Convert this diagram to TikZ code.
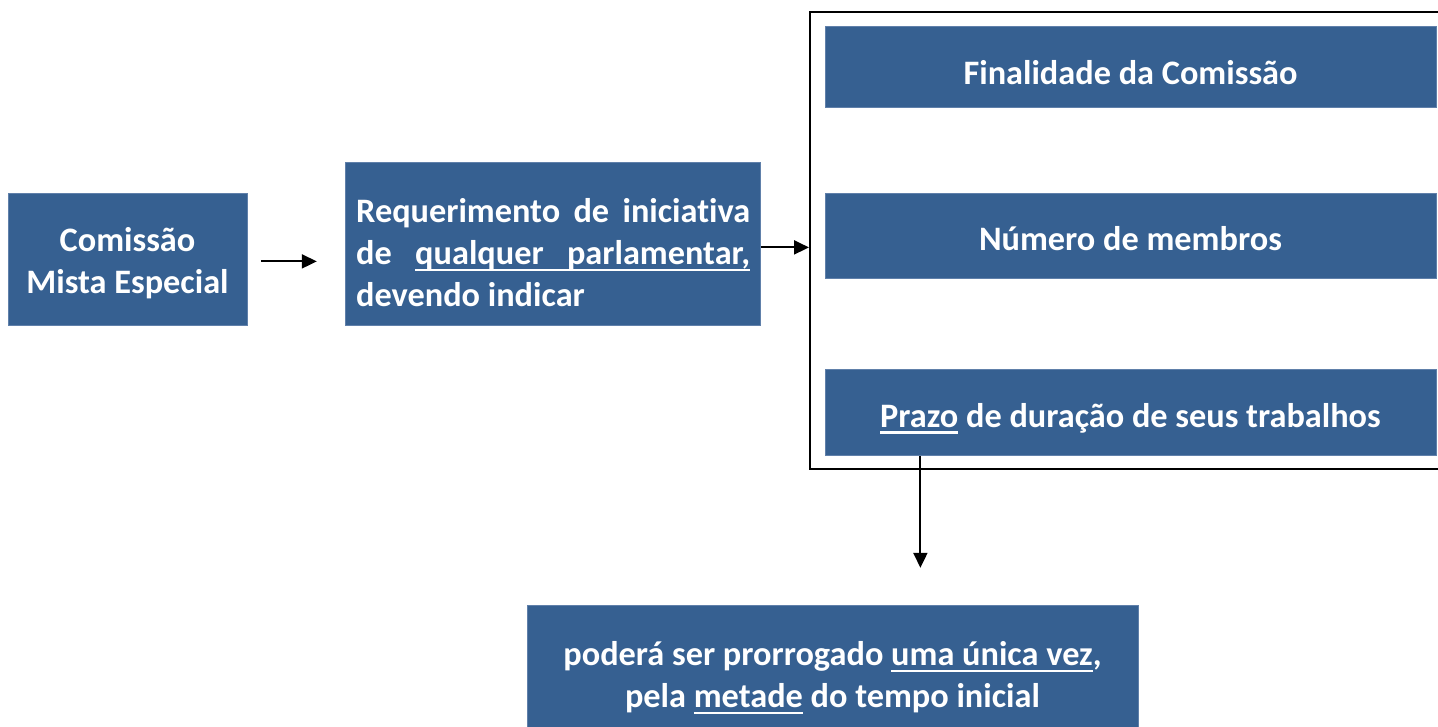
\documentclass[tikz,border=0pt]{standalone}
\usepackage{fontspec}
\setmainfont{Carlito}[Ligatures=NoCommon]
\usetikzlibrary{arrows.meta}
\newcommand\ulrule{\leaders\vrule height -4.4pt depth 7pt\hfill}
\newcommand\myul[1]{\setbox0\hbox{#1}\rlap{\vrule height -4.4pt depth 7pt width \wd0}\box0\relax}
\definecolor{boxblue}{RGB}{54,96,145}
\definecolor{boxedge}{RGB}{96,128,170}
\begin{document}
\begin{tikzpicture}[x=1pt,y=-1pt,
  box/.style={rectangle, fill=boxblue, draw=boxedge, line width=0.8pt, anchor=north west, inner sep=0pt},
  txt/.style={text=white, font=\fontsize{34.3}{42}\selectfont\bfseries, inner sep=0pt},
  arr/.style={line width=2pt, -{Triangle[length=15pt,width=14pt]}},
  frame/.style={draw=black, line width=2pt, anchor=north west, inner sep=0pt}]
\useasboundingbox (0,0) rectangle (1438,727);
\clip (0,0) rectangle (1438,727);

\node[frame, minimum width=645pt, minimum height=457pt] (F) at (809,11) {};

\node[box, minimum width=239pt, minimum height=132pt] (A) at (8,193) {};
\node[txt, align=center, anchor=north] (At) at (127.5,221.5) {\rule{0pt}{30pt}Comissão\\Mista Especial};

\node[box, minimum width=415pt, minimum height=163pt] (B) at (345,162) {};
\node[txt, align=left, anchor=north west] (Bt) at (356,192) {\rule{0pt}{30pt}\hbox to 394pt{Requerimento\hfill de\hfill iniciativa}\\\hbox to 394pt{de\hfill\myul{qualquer}\ulrule\myul{parlamentar,}}\\devendo indicar};

\node[box, minimum width=611pt, minimum height=81pt] (C1) at (825,26) {};
\node[txt, anchor=base] (C1t) at (1130.5,85) {Finalidade da Comissão};

\node[box, minimum width=611pt, minimum height=85pt] (C2) at (825,193) {};
\node[txt, anchor=base] (C2t) at (1130.5,251) {Número de membros};

\node[box, minimum width=611pt, minimum height=86pt] (C3) at (825,369) {};
\node[txt, anchor=base] (C3t) at (1130.5,427) {\myul{Prazo} de duração de seus trabalhos};

\node[box, minimum width=611pt, minimum height=130pt] (D) at (527,605) {};
\node[txt, align=center, anchor=north] (Dt) at (832.5,635) {\rule{0pt}{30pt}poderá ser prorrogado \myul{uma única vez},\\pela \myul{metade} do tempo inicial};

\draw[arr] ([xshift=13pt,yshift=-2pt]A.east) -- ++(56,0);
\coordinate (b2) at ([yshift=-3.5pt]B.east);
\draw[arr] (b2) -- (b2 -| F.west);
\draw[arr] ([xshift=-210.5pt]C3.south) -- ++(0,112);
\end{tikzpicture}
\end{document}
